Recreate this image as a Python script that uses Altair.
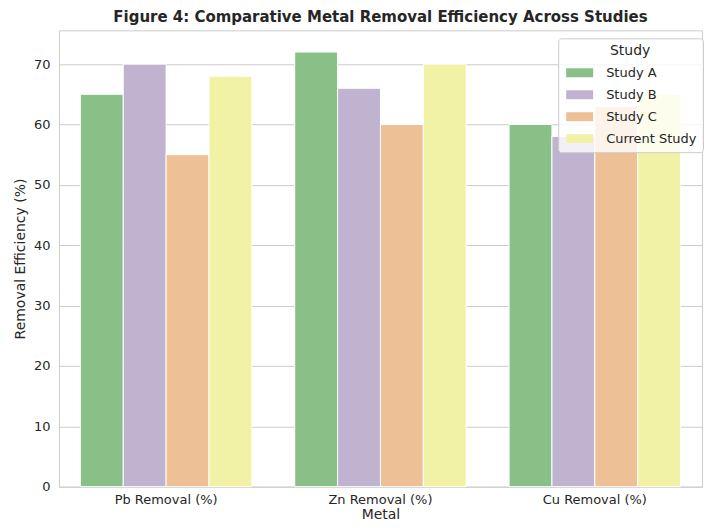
import altair as alt
import pandas as pd

metals = ["Pb Removal (%)", "Zn Removal (%)", "Cu Removal (%)"]
studies = ["Study A", "Study B", "Study C", "Current Study"]
study_a = [65, 72, 60]
study_b = [70, 66, 58]
study_c = [55, 60, 63]
current = [68, 70, 65]
colors = ["#88c088", "#bfb3cf", "#eec095", "#f2f2a6"]

rows = []
for s, vals in zip(studies, [study_a, study_b, study_c, current]):
    for m, v in zip(metals, vals):
        rows.append({"Metal": m, "Study": s, "Value": v})
df = pd.DataFrame(rows)

FONT = "DejaVu Sans"
TXT = "#262626"

chart = alt.Chart(df).mark_bar(stroke="white", strokeWidth=1).encode(
    x=alt.X("Metal:N", sort=metals,
            scale=alt.Scale(paddingInner=0.2, paddingOuter=0.1),
            axis=alt.Axis(title="Metal", labelAngle=0, ticks=False, domain=False,
                          grid=False, labelPadding=7, titlePadding=1,
                          labelFontSize=13, titleFontSize=14, titleFontWeight="normal")),
    xOffset=alt.XOffset("Study:N", sort=studies, scale=alt.Scale(paddingInner=0, paddingOuter=0)),
    y=alt.Y("Value:Q", scale=alt.Scale(domain=[0, 75.6], nice=False, zero=True),
            axis=alt.Axis(title="Removal Efficiency (%)", values=[0, 10, 20, 30, 40, 50, 60, 70],
                          ticks=False, domain=False, grid=True, gridColor="#cccccc",
                          gridWidth=1, labelPadding=9, titlePadding=6,
                          labelFontSize=13, titleFontSize=14, titleFontWeight="normal")),
    color=alt.Color("Study:N", sort=studies,
                    scale=alt.Scale(domain=studies, range=colors),
                    legend=alt.Legend(title="Study", orient="none", legendX=500, legendY=8,
                                      symbolType="M-3,-1L3,-1L3,1L-3,1Z", symbolSize=81,
                                      symbolOffset=9, labelOffset=20, symbolStrokeWidth=0,
                                      rowPadding=8, titlePadding=8, padding=6,
                                      titleAnchor="middle", titleFontSize=14,
                                      titleFontWeight="normal", labelFontSize=13,
                                      strokeColor="#cccccc", fillColor="rgba(255,255,255,0.8)",
                                      cornerRadius=3)),
).properties(
    width=644, height=457,
    title=alt.TitleParams("Figure 4: Comparative Metal Removal Efficiency Across Studies",
                          fontSize=15, fontWeight="bold", color=TXT, font=FONT, offset=5),
    padding={"left": 5, "top": 2, "right": 0, "bottom": 0},
).configure_view(
    stroke="#cccccc", strokeWidth=1
).configure_axis(
    labelFont=FONT, titleFont=FONT, labelColor=TXT, titleColor=TXT
).configure_legend(
    labelFont=FONT, titleFont=FONT, labelColor=TXT, titleColor=TXT
)

chart.save("out.html", embed_options={"renderer": "svg", "actions": False})
